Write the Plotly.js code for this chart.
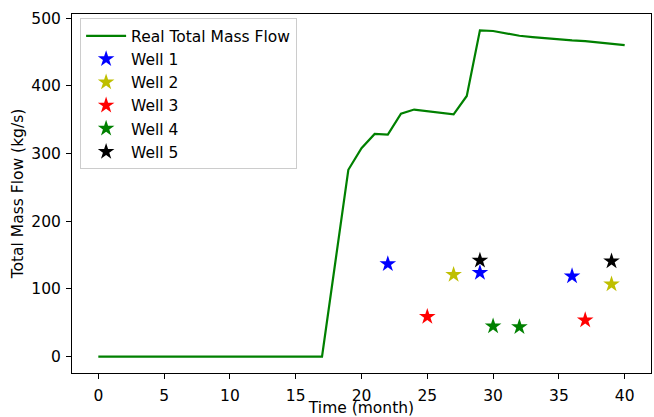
<!DOCTYPE html>
<html>
<head>
<meta charset="utf-8">
<script src="https://cdn.plot.ly/plotly-3.0.1.min.js"></script>
<style>html,body{margin:0;padding:0;background:#fff;}#chart{width:654px;height:417px;}</style>
</head>
<body>
<div id="chart"></div>
<script>
const months = [0,1,2,3,4,5,6,7,8,9,10,11,12,13,14,15,16,17,18,19,20,21,22,23,24,25,26,27,28,29,30,31,32,33,34,35,36,37,38,39,40];
const totalFlow = [0,0,0,0,0,0,0,0,0,0,0,0,0,0,0,0,0,0,138,276,308,329,328,359,365,363,361,358,385,482,481,477,474,472,470,469,467,466,464,462,460];

const well1X = [22,29,36], well1Y = [137,124,119];
const well2X = [27,39],    well2Y = [121,107];
const well3X = [25,37],    well3Y = [59,54];
const well4X = [30,32],    well4Y = [45,44];
const well5X = [29,39],    well5Y = [142,141];

const xTicks = [0,5,10,15,20,25,30,35,40];
const yTicks = [0,100,200,300,400,500];

const font = 'DejaVu Sans, sans-serif';
const fs = 15.5;
function wellTrace(name, x, y, color){
  return {x:x, y:y, name:name, type:'scatter', mode:'markers',
    marker:{symbol:'star', size:12.5, color:color, line:{width:0}}};
}
const data = [
  {x:months, y:totalFlow, name:'Real Total Mass Flow', type:'scatter', mode:'lines',
   line:{color:'#008000', width:2.2}},
  wellTrace('Well 1', well1X, well1Y, '#0000ff'),
  wellTrace('Well 2', well2X, well2Y, '#bfbf00'),
  wellTrace('Well 3', well3X, well3Y, '#ff0000'),
  wellTrace('Well 4', well4X, well4Y, '#008000'),
  wellTrace('Well 5', well5X, well5Y, '#000000')
];
const layout = {
  width:654, height:417,
  margin:{l:72, r:3, t:14, b:44},
  paper_bgcolor:'#fff', plot_bgcolor:'#fff',
  font:{family:font, size:fs, color:'#000'},
  showlegend:true,
  legend:{x:0.014, y:0.988, xanchor:'left', yanchor:'top',
    bgcolor:'rgba(255,255,255,0.8)', bordercolor:'#cccccc', borderwidth:1,
    itemwidth:40,
    font:{family:font, size:fs, color:'#000'}, tracegroupgap:0},
  xaxis:{range:[-2,42], tickvals:xTicks, ticktext:xTicks.map(String),
    showgrid:false, zeroline:false, showline:true, linecolor:'#000', linewidth:1, mirror:true,
    ticks:'outside', ticklen:5, tickwidth:1, tickcolor:'#000', ticklabelstandoff:3,
    tickfont:{family:font, size:fs},
    title:{text:'Time (month)', font:{family:font, size:fs}, standoff:5}},
  yaxis:{range:[-24.1,506.1], tickvals:yTicks, ticktext:yTicks.map(String),
    showgrid:false, zeroline:false, showline:true, linecolor:'#000', linewidth:1, mirror:true,
    ticks:'outside', ticklen:5, tickwidth:1, tickcolor:'#000', ticklabelstandoff:2,
    tickfont:{family:font, size:fs},
    title:{text:'Total Mass Flow (kg/s)', font:{family:font, size:fs}, standoff:3}}
};
Plotly.newPlot('chart', data, layout, {displayModeBar:false, staticPlot:true});
</script>
</body>
</html>
